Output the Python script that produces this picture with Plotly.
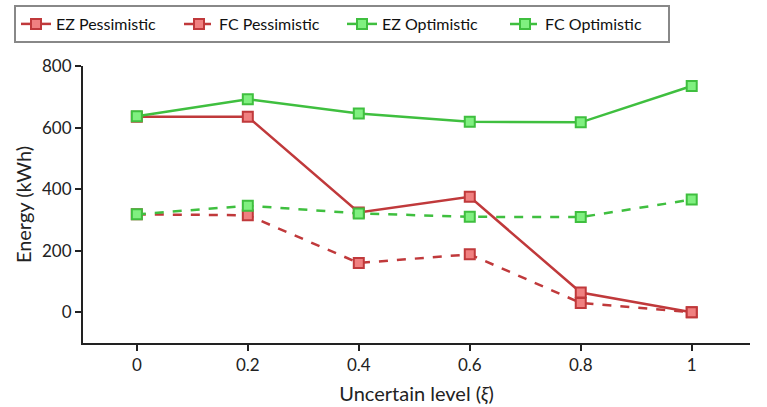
import plotly.graph_objects as go

x_levels = [0, 0.2, 0.4, 0.6, 0.8, 1]
ez_pessimistic = [635, 635, 324, 375, 64, 0]
fc_pessimistic = [318, 315, 160, 188, 30, 0]
ez_optimistic = [637, 692, 646, 619, 617, 735]
fc_optimistic = [318, 346, 321, 310, 309, 366]

RED_LINE = "#c0393b"
RED_FILL = "#f08080"
GREEN_LINE = "#3fbf3f"
GREEN_FILL = "#80f080"

FONT = "Lato"

fig = go.Figure()

def add(name, y, line_c, fill_c, dash):
    fig.add_trace(go.Scatter(
        x=x_levels, y=y, name=name, mode="lines+markers",
        line=dict(color=line_c, width=2.5, dash=dash),
        marker=dict(symbol="square", size=10, color=fill_c,
                    line=dict(color=line_c, width=2)),
    ))

add("EZ Pessimistic", ez_pessimistic, RED_LINE, RED_FILL, "solid")
add("FC Pessimistic", fc_pessimistic, RED_LINE, RED_FILL, "dash")
add("EZ Optimistic", ez_optimistic, GREEN_LINE, GREEN_FILL, "solid")
add("FC Optimistic", fc_optimistic, GREEN_LINE, GREEN_FILL, "dash")

fig.update_layout(
    width=767, height=407,
    margin=dict(l=83, r=17, t=66, b=64),
    paper_bgcolor="white", plot_bgcolor="white",
    font=dict(family=FONT, size=17, color="#222"),
    showlegend=True,
    legend=dict(
        orientation="h", xref="container", yref="container",
        x=14 / 767, y=1 - 5 / 407, xanchor="left", yanchor="top",
        bordercolor="#888", borderwidth=2,
        font=dict(family=FONT, size=16, color="#111"),
        entrywidth=118, entrywidthmode="pixels",
        tracegroupgap=0,
    ),
    xaxis=dict(
        range=[-0.097, 1.105], tickvals=x_levels,
        ticktext=["0", "0.2", "0.4", "0.6", "0.8", "1"],
        showline=True, linecolor="#222", linewidth=2,
        ticks="outside", ticklen=6, tickwidth=1.5, tickcolor="#222",
        showgrid=False, zeroline=False, automargin=False,
        title=dict(text="Uncertain level (<i>ξ</i>)", standoff=13),
    ),
    yaxis=dict(
        range=[-100, 800], tickvals=[0, 200, 400, 600, 800],
        showline=True, linecolor="#222", linewidth=2,
        ticks="outside", ticklen=6, tickwidth=1.5, tickcolor="#222",
        showgrid=False, zeroline=False, automargin=False,
        title=dict(text="Energy (kWh)", standoff=5),
    ),
)

fig.write_html("out.html")
